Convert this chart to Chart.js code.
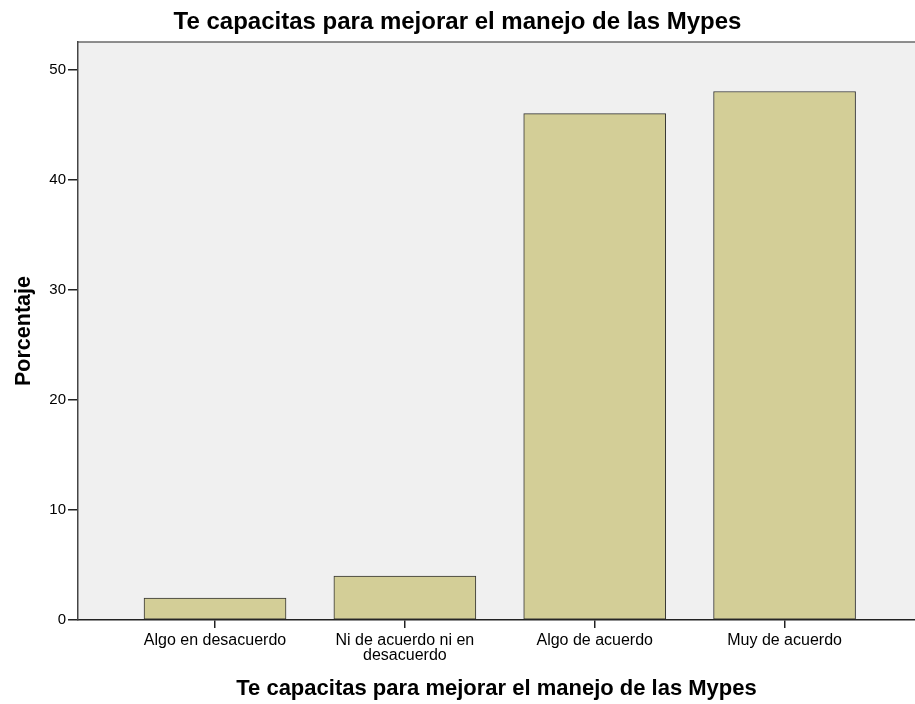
<!DOCTYPE html>
<html>
<head>
<meta charset="utf-8">
<script src="https://cdn.jsdelivr.net/npm/chart.js@4"></script>
<style>
  html, body { margin: 0; padding: 0; background: #ffffff; }
</style>
</head>
<body>
<canvas id="myChart" width="915" height="704"></canvas>
<script>
var chartTitle = 'Te capacitas para mejorar el manejo de las Mypes';
var xTitle = 'Te capacitas para mejorar el manejo de las Mypes';
var yTitle = 'Porcentaje';
var categories = ['Algo en desacuerdo', ['Ni de acuerdo ni en', 'desacuerdo'], 'Algo de acuerdo', 'Muy de acuerdo'];
var percentValues = [2, 4, 46, 48];
var yTicks = [0, 10, 20, 30, 40, 50];

var fontFamily = '"Liberation Sans", Arial, sans-serif';

// grey plot background + top frame line, like the SPSS output
var plotBackground = {
  id: 'plotBackground',
  beforeDraw: function (chart) {
    var ctx = chart.ctx;
    var a = chart.chartArea;
    ctx.save();
    ctx.fillStyle = '#f0f0f0';
    ctx.fillRect(a.left, a.top, a.right - a.left, a.bottom - a.top);
    ctx.strokeStyle = '#6a6a6a';
    ctx.lineWidth = 1.5;
    ctx.beginPath();
    ctx.moveTo(a.left, a.top);
    ctx.lineTo(a.right, a.top);
    ctx.stroke();
    ctx.restore();
  }
};

var points = [];
for (var i = 0; i < percentValues.length; i++) {
  points.push({ x: i, y: percentValues[i] });
}

var config = {
  type: 'bar',
  data: {
    datasets: [{
      data: points,
      backgroundColor: '#d3ce97',
      borderColor: '#333333',
      borderWidth: 1,
      borderSkipped: false,
      barThickness: 142,
      grouped: false
    }]
  },
  options: {
    responsive: false,
    animation: false,
    devicePixelRatio: 1,
    layout: { padding: { left: 0, right: 0, top: 0, bottom: 0 } },
    plugins: {
      legend: { display: false },
      tooltip: { enabled: false },
      title: {
        display: true,
        text: chartTitle,
        color: '#000000',
        font: { family: fontFamily, size: 24, weight: 'bold' },
        padding: { top: 7.5, bottom: 5.7 }
      }
    },
    scales: {
      x: {
        type: 'linear',
        offset: false,
        min: -0.7217,
        max: 3.687,
        afterBuildTicks: function (scale) {
          scale.ticks = categories.map(function (c, i) { return { value: i }; });
        },
        afterFit: function (scale) { scale.height = 84; },
        ticks: {
          color: '#000000',
          font: { family: fontFamily, size: 16, lineHeight: 0.95 },
          padding: 5,
          maxRotation: 0,
          autoSkip: false,
          callback: function (value) { return categories[value]; }
        },
        grid: {
          display: true,
          offset: false,
          drawOnChartArea: false,
          drawTicks: true,
          tickLength: 8,
          color: '#222222',
          lineWidth: 1.5
        },
        border: { display: true, color: '#222222', width: 1.5 },
        title: {
          display: true,
          text: xTitle,
          color: '#000000',
          font: { family: fontFamily, size: 22, weight: 'bold' },
          padding: { top: 0, bottom: 1.8 }
        }
      },
      y: {
        min: 0,
        max: 52.5,
        afterBuildTicks: function (scale) {
          scale.ticks = yTicks.map(function (v) { return { value: v }; });
        },
        afterFit: function (scale) { scale.width = 78; },
        ticks: {
          color: '#000000',
          font: { family: fontFamily, size: 15 },
          padding: 2
        },
        grid: {
          display: true,
          drawOnChartArea: false,
          drawTicks: true,
          tickLength: 10,
          color: '#222222',
          lineWidth: 1.5
        },
        border: { display: true, color: '#444444', width: 1.5 },
        title: {
          display: true,
          text: yTitle,
          color: '#000000',
          font: { family: fontFamily, size: 21.5, weight: 'bold' },
          padding: { top: 11, bottom: 0 }
        }
      }
    }
  },
  plugins: [plotBackground]
};

var ctx = document.getElementById('myChart').getContext('2d');
window.myBar = new Chart(ctx, config);
</script>
</body>
</html>
